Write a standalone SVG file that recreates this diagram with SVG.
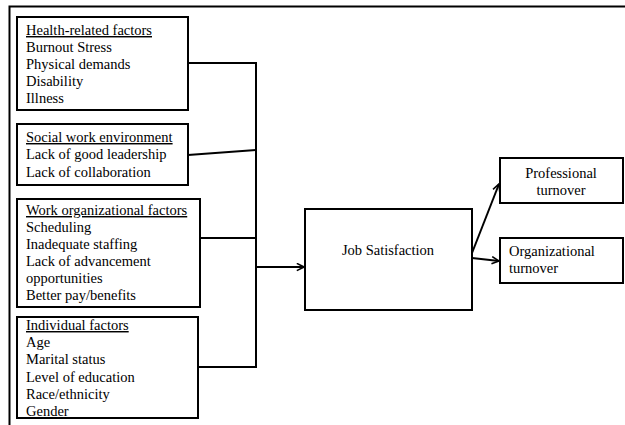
<svg xmlns="http://www.w3.org/2000/svg" width="625" height="425" viewBox="0 0 625 425">
<defs>
<style>
.box{fill:#fff;stroke:#000;stroke-width:2}
.h{text-decoration:underline}
.c{fill:none;stroke:#000;stroke-width:2}
</style>
<marker id="ah" viewBox="0 0 10 10" refX="9" refY="5" markerWidth="9" markerHeight="9" markerUnits="userSpaceOnUse" orient="auto">
<path d="M1,1 L9,5 L1,9" fill="none" stroke="#000" stroke-width="1.8"/>
</marker>
</defs>
<rect width="625" height="425" fill="#fff"/>
<path d="M9.5,425 V6.5 H625" fill="none" stroke="#000" stroke-width="2"/>
<g id="connectors">
<path class="c" d="M188,63 H256 V367 H198"/>
<path class="c" d="M188,155 L256,150"/>
<path class="c" d="M200,238 H256"/>
<path class="c" d="M256,267 H304" marker-end="url(#ah)"/>
<path class="c" d="M472,253 L499,184" marker-end="url(#ah)"/>
<path class="c" d="M472,258 L499,261" marker-end="url(#ah)"/>
</g>
<g id="health">
<rect class="box" x="17" y="17" width="171" height="93"/>
<text font-family="Liberation Serif, serif" font-size="14.5" x="26"><tspan class="h" y="35">Health-related factors</tspan><tspan x="26" y="52">Burnout Stress</tspan><tspan x="26" y="69">Physical demands</tspan><tspan x="26" y="86">Disability</tspan><tspan x="26" y="103">Illness</tspan></text>
</g>
<g id="social">
<rect class="box" x="17" y="124" width="171" height="61"/>
<text font-family="Liberation Serif, serif" font-size="14.5" x="26"><tspan class="h" y="142">Social work environment</tspan><tspan x="26" y="159">Lack of good leadership</tspan><tspan x="26" y="177">Lack of collaboration</tspan></text>
</g>
<g id="work">
<rect class="box" x="17" y="199" width="183" height="108"/>
<text font-family="Liberation Serif, serif" font-size="14.5" x="26"><tspan class="h" y="215">Work organizational factors</tspan><tspan x="26" y="232">Scheduling</tspan><tspan x="26" y="249">Inadequate staffing</tspan><tspan x="26" y="266">Lack of advancement</tspan><tspan x="26" y="283">opportunities</tspan><tspan x="26" y="300">Better pay/benefits</tspan></text>
</g>
<g id="individual">
<rect class="box" x="17" y="317" width="181" height="101"/>
<text font-family="Liberation Serif, serif" font-size="14.5" x="26"><tspan class="h" y="330">Individual factors</tspan><tspan x="26" y="347">Age</tspan><tspan x="26" y="364">Marital status</tspan><tspan x="26" y="382">Level of education</tspan><tspan x="26" y="399">Race/ethnicity</tspan><tspan x="26" y="416">Gender</tspan></text>
</g>
<g id="job">
<rect class="box" x="305" y="209" width="167" height="101"/>
<text font-family="Liberation Serif, serif" font-size="14.5" x="388" y="255" text-anchor="middle">Job Satisfaction</text>
</g>
<g id="professional">
<rect class="box" x="500" y="158" width="123" height="45"/>
<text font-family="Liberation Serif, serif" font-size="14.5" text-anchor="middle"><tspan x="561" y="178">Professional</tspan><tspan x="561" y="195">turnover</tspan></text>
</g>
<g id="organizational">
<rect class="box" x="500" y="238" width="123" height="45"/>
<text font-family="Liberation Serif, serif" font-size="14.5"><tspan x="509" y="256">Organizational</tspan><tspan x="509" y="273">turnover</tspan></text>
</g>
</svg>
